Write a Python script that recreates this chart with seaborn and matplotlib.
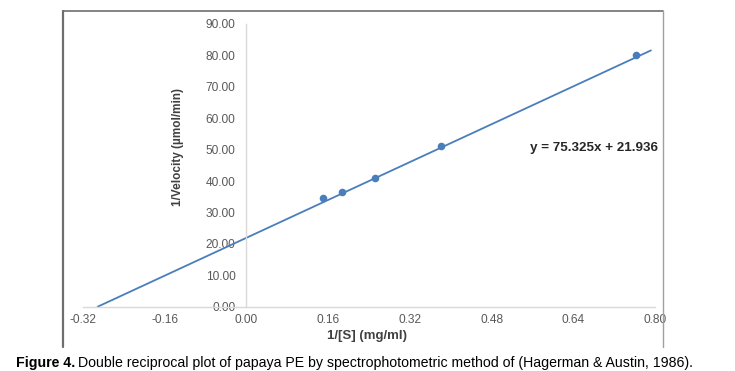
import numpy as np
import pandas as pd
import matplotlib
matplotlib.use("Agg")
import matplotlib.pyplot as plt
import seaborn as sns
from matplotlib.lines import Line2D

# data
inv_s = [0.149, 0.188, 0.252, 0.381, 0.762]        # 1/[S] (mg/ml)
inv_v = [34.6, 36.5, 41.1, 51.2, 80.1]             # 1/Velocity (umol/min)
slope = 75.325
intercept = 21.936
trend_end = 0.792
x_ticks = [-0.32, -0.16, 0.00, 0.16, 0.32, 0.48, 0.64, 0.80]
y_ticks = [0, 10, 20, 30, 40, 50, 60, 70, 80, 90]

sns.set_style("white")
plt.rcParams["font.family"] = ["Liberation Sans", "DejaVu Sans"]

fig = plt.figure(figsize=(7.35, 3.71), dpi=100)
ax = fig.add_axes([83 / 735, 1 - 306.7 / 371, 572 / 735, 282.7 / 371])

df_pts = pd.DataFrame({"x": inv_s, "y": inv_v})
trend_x = np.linspace(-intercept / slope, trend_end, 50)
df_trend = pd.DataFrame({"x": trend_x, "y": slope * trend_x + intercept})

blue = "#4a7ebb"
sns.lineplot(data=df_trend, x="x", y="y", ax=ax, color=blue, linewidth=1.3)
sns.scatterplot(data=df_pts, x="x", y="y", ax=ax, color=blue, s=30,
                edgecolor=blue, linewidth=0, zorder=5)

ax.set_xlim(-0.32, 0.80)
ax.set_ylim(0, 90)
ax.set_xticks(x_ticks)
ax.set_xticklabels([f"{t:.2f}" for t in x_ticks])
ax.set_yticks(y_ticks)
ax.set_yticklabels([f"{t:.2f}" for t in y_ticks])
ax.tick_params(axis="both", length=0, labelsize=8.6, labelcolor="#595959")
ax.tick_params(axis="y", pad=8)
ax.tick_params(axis="x", pad=5)
for lab in ax.get_yticklabels():
    lab.set_verticalalignment("center")

for s in ["top", "right"]:
    ax.spines[s].set_visible(False)
ax.spines["left"].set_position(("data", 0))
ax.spines["left"].set_color("#d9d9d9")
ax.spines["bottom"].set_color("#d9d9d9")
ax.spines["left"].set_linewidth(1.0)
ax.spines["bottom"].set_linewidth(1.0)
ax.set_xlabel("")
ax.set_ylabel("")
ax.patch.set_alpha(0)

fig.text(178 / 735, 1 - 147 / 371, "1/Velocity (µmol/min)", rotation=90,
         ha="center", va="center", fontsize=8.5, fontweight="bold", color="#404040")
fig.text(367 / 735, 1 - 335.5 / 371, "1/[S] (mg/ml)", ha="center", va="center",
         fontsize=9.5, fontweight="bold", color="#404040")
fig.text(530 / 735, 1 - 148 / 371, f"y = {slope}x + {intercept}", ha="left",
         va="center", fontsize=9.6, fontweight="bold", color="#262626")

# outer chart frame (no bottom edge)
fig.add_artist(Line2D([63 / 735, 63 / 735], [1 - 347 / 371, 1 - 10.5 / 371],
                      transform=fig.transFigure, color="#6e6e6e", linewidth=1.6))
fig.add_artist(Line2D([63 / 735, 662.5 / 735], [1 - 10.5 / 371, 1 - 10.5 / 371],
                      transform=fig.transFigure, color="#6e6e6e", linewidth=1.2))
fig.add_artist(Line2D([662.5 / 735, 662.5 / 735], [1 - 347 / 371, 1 - 10.5 / 371],
                      transform=fig.transFigure, color="#a0a0a0", linewidth=1.0))

# caption: bold "Figure 4." followed by normal text
cap_y = 1 - 362.5 / 371
t1 = fig.text(16 / 735, cap_y, "Figure 4.", ha="left", va="center",
              fontsize=10.2, fontweight="bold", color="black")
fig.canvas.draw()
bb = t1.get_window_extent(renderer=fig.canvas.get_renderer())
fig.text(bb.x1 / fig.bbox.width + 3 / 735, cap_y,
         "Double reciprocal plot of papaya PE by spectrophotometric method of (Hagerman & Austin, 1986).",
         ha="left", va="center", fontsize=10.2, color="black")

fig.savefig("out.png", dpi=100)
